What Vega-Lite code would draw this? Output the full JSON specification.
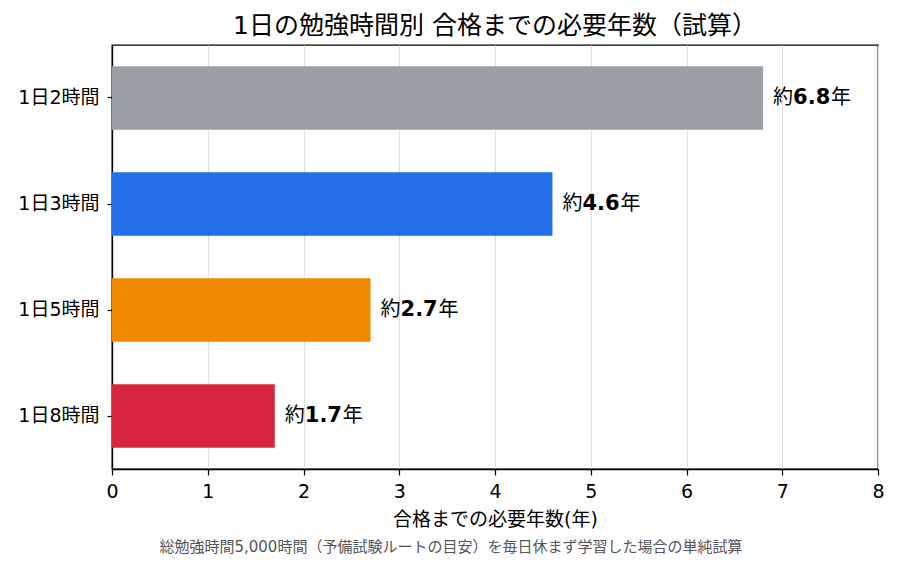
{
  "$schema": "https://vega.github.io/schema/vega-lite/v6.json",
  "padding": {"left": 17, "top": 13, "right": 20, "bottom": 4},
  "background": "white",
  "config": {
    "font": "DejaVu Sans, Noto Sans CJK JP",
    "view": {"stroke": "black", "strokeWidth": 1.3},
    "concat": {"spacing": 0}
  },
  "title": {
    "text": "総勉強時間5,000時間（予備試験ルートの目安）を毎日休まず学習した場合の単純試算",
    "orient": "bottom",
    "fontSize": 15,
    "fontWeight": "normal",
    "color": "#555555",
    "anchor": "middle",
    "offset": 10,
    "font": "DejaVu Sans, Noto Sans CJK JP"
  },
  "vconcat": [
    {
      "width": 766,
      "height": 424,
      "title": {
        "text": "1日の勉強時間別 合格までの必要年数（試算）",
        "fontSize": 25,
        "fontWeight": "normal",
        "color": "black",
        "anchor": "middle",
        "frame": "group",
        "offset": 6
      },
      "data": {
        "values": [
          {"label": "1日2時間", "years": 6.8},
          {"label": "1日3時間", "years": 4.6},
          {"label": "1日5時間", "years": 2.7},
          {"label": "1日8時間", "years": 1.7}
        ]
      },
      "encoding": {
        "y": {
          "field": "label",
          "type": "nominal",
          "sort": null,
          "scale": {"paddingInner": 0.4, "paddingOuter": 0.2},
          "axis": {
            "title": null,
            "labelFontSize": 19,
            "labelColor": "black",
            "tickColor": "black",
            "tickSize": 5,
            "tickWidth": 1.2,
            "labelPadding": 8,
            "domainColor": "black",
            "domainWidth": 1.3,
            "grid": false
          }
        },
        "x": {
          "field": "years",
          "type": "quantitative",
          "scale": {"domain": [0, 8], "nice": false},
          "axis": {
            "title": "合格までの必要年数(年)",
            "titleFontSize": 19,
            "titleFontWeight": "normal",
            "titleColor": "black",
            "titlePadding": 9,
            "values": [0, 1, 2, 3, 4, 5, 6, 7, 8],
            "labelFlush": false,
            "labelFontSize": 19,
            "labelColor": "black",
            "labelPadding": 7,
            "tickColor": "black",
            "tickSize": 6,
            "tickWidth": 1.2,
            "domainColor": "black",
            "domainWidth": 1.3,
            "grid": true,
            "gridColor": "#e0e0e0",
            "gridWidth": 1
          }
        }
      },
      "layer": [
        {
          "mark": {"type": "bar"},
          "encoding": {
            "color": {
              "field": "label",
              "type": "nominal",
              "scale": {
                "domain": ["1日2時間", "1日3時間", "1日5時間", "1日8時間"],
                "range": ["#9aa0a6", "#2370ea", "#ee8900", "#d7263d"]
              },
              "legend": null
            }
          }
        },
        {
          "mark": {"type": "text", "align": "left", "baseline": "middle", "dx": 10, "fontSize": 20, "color": "black"},
          "encoding": {"text": {"value": "約"}}
        },
        {
          "mark": {"type": "text", "align": "left", "baseline": "middle", "dx": 30, "fontSize": 21, "fontWeight": "bold", "color": "black"},
          "encoding": {"text": {"field": "years", "type": "quantitative", "format": ".1f"}}
        },
        {
          "mark": {"type": "text", "align": "left", "baseline": "middle", "dx": 68, "fontSize": 20, "color": "black"},
          "encoding": {"text": {"value": "年"}}
        }
      ]
    }
  ]
}
